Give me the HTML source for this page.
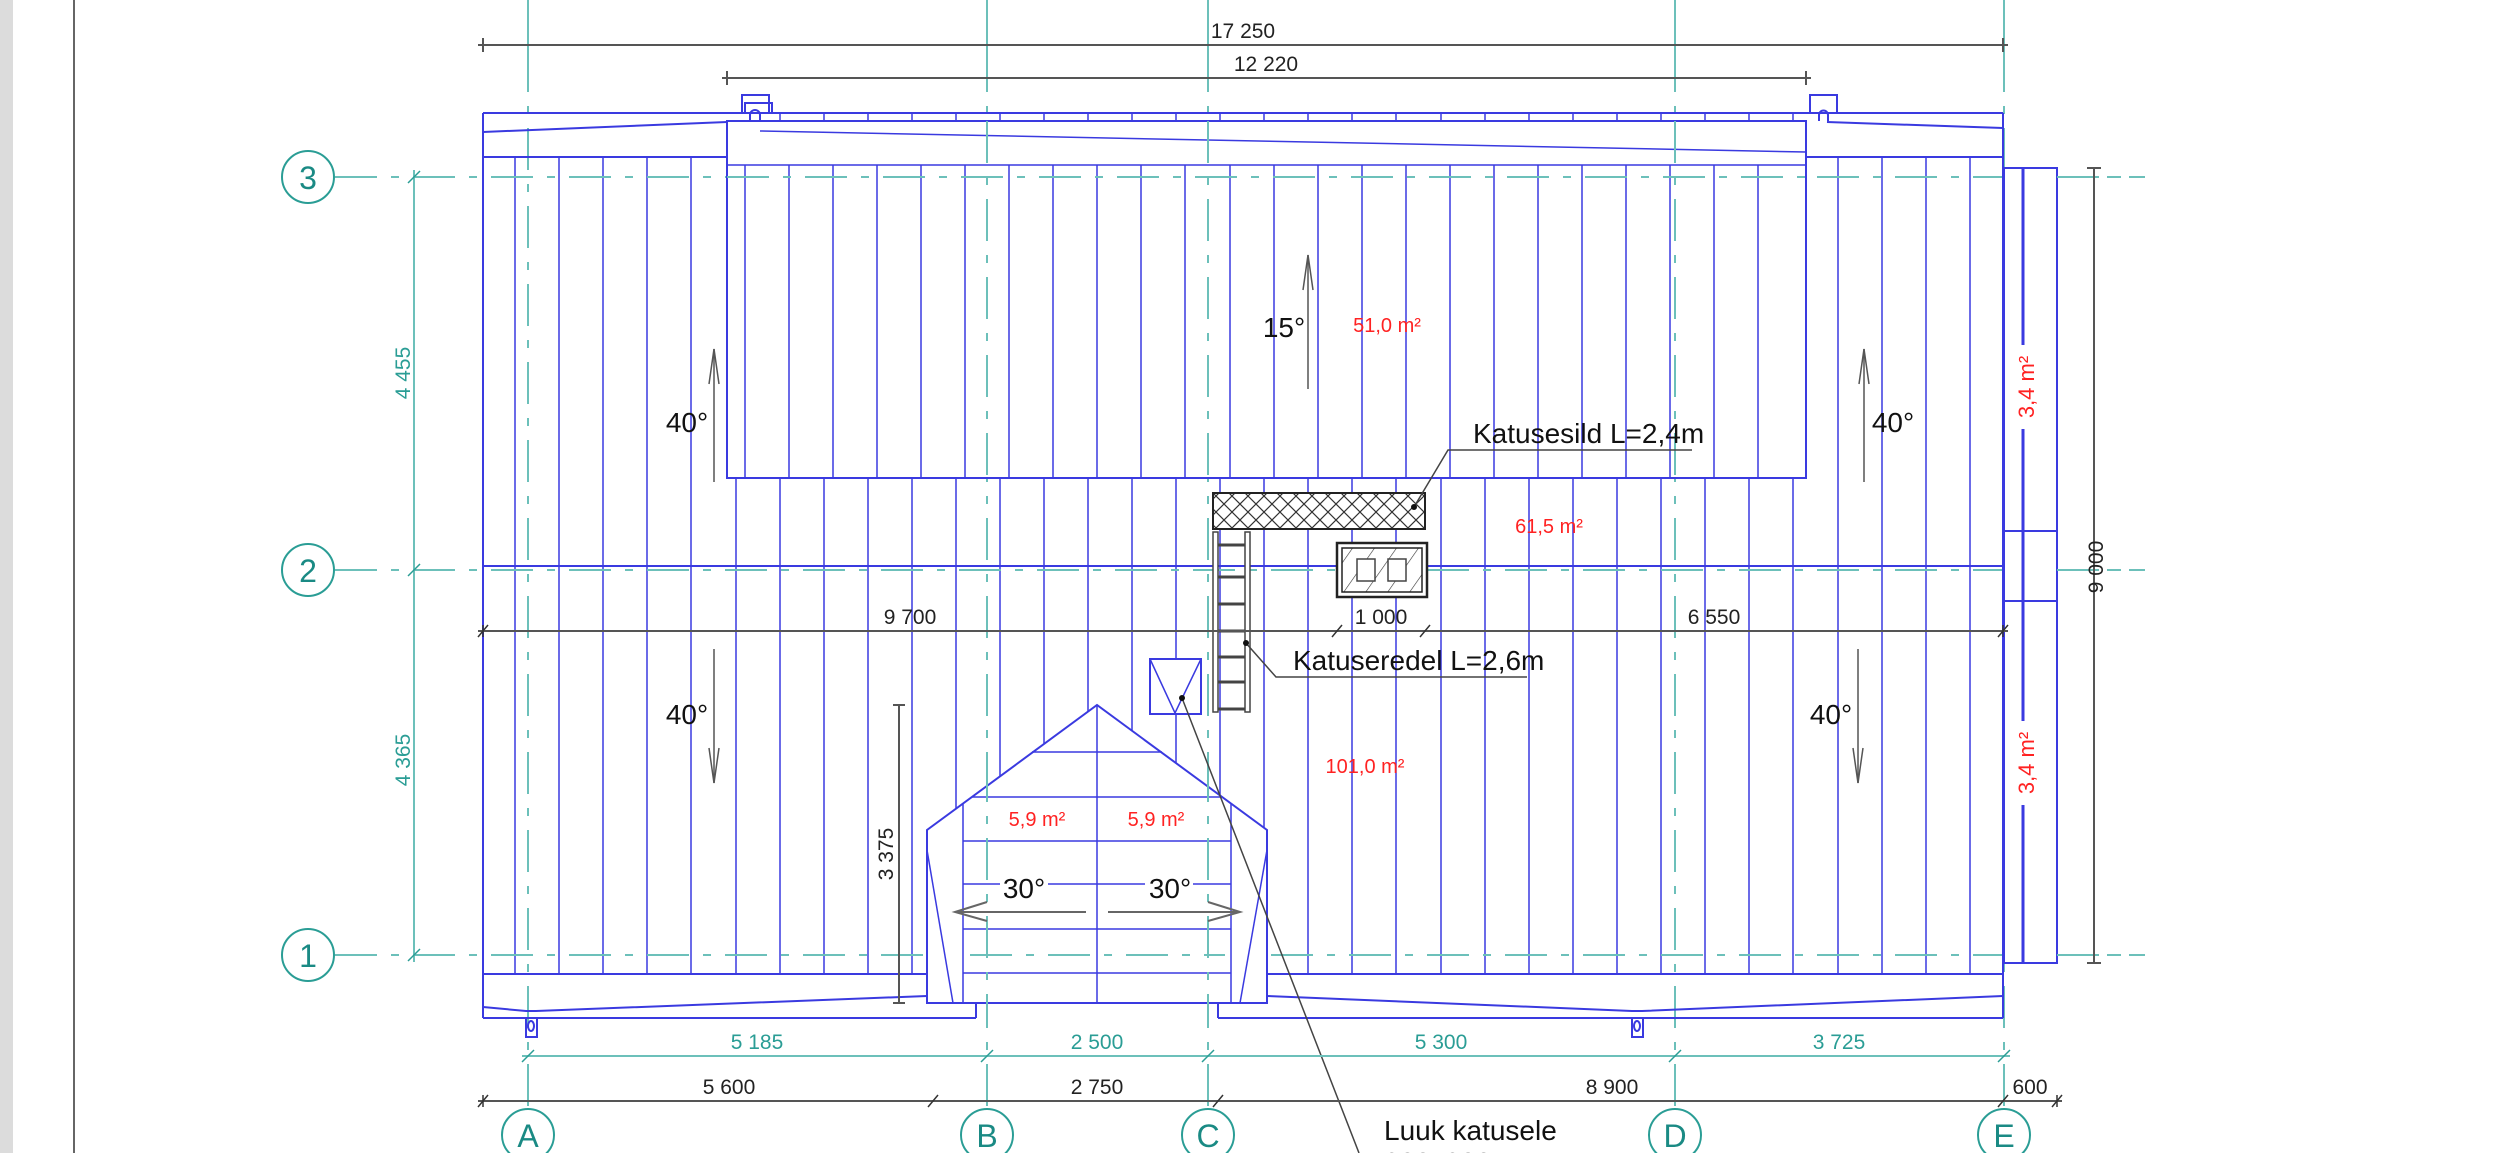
<!DOCTYPE html>
<html><head><meta charset="utf-8"><style>
html,body{margin:0;padding:0;background:#fff;}
svg{display:block;}
text{font-family:"Liberation Sans",sans-serif;}
</style></head><body>
<svg width="2500" height="1153" viewBox="0 0 2500 1153" xmlns="http://www.w3.org/2000/svg">
<rect x="0" y="0" width="2500" height="1153" fill="#fff"/>
<rect x="0" y="0" width="13" height="1153" fill="#dcdcdc"/>
<line x1="74" y1="0" x2="74" y2="1153" stroke="#666" stroke-width="2"/>

<!-- rafters left/right full height -->
<g stroke="#3a3ae0" stroke-width="1.5" fill="none">
<line x1="515" y1="157" x2="515" y2="974"/><line x1="559" y1="157" x2="559" y2="974"/><line x1="603" y1="157" x2="603" y2="974"/><line x1="647" y1="157" x2="647" y2="974"/><line x1="691" y1="157" x2="691" y2="974"/>
<line x1="1838" y1="157" x2="1838" y2="974"/><line x1="1882" y1="157" x2="1882" y2="974"/><line x1="1926" y1="157" x2="1926" y2="974"/><line x1="1970" y1="157" x2="1970" y2="974"/>
</g>
<!-- lower rafters -->
<g stroke="#3a3ae0" stroke-width="1.5" id="lr">
<line x1="736" y1="478" x2="736" y2="974"/><line x1="780" y1="478" x2="780" y2="974"/><line x1="824" y1="478" x2="824" y2="974"/><line x1="868" y1="478" x2="868" y2="974"/><line x1="912" y1="478" x2="912" y2="974"/><line x1="956" y1="478" x2="956" y2="974"/><line x1="1000" y1="478" x2="1000" y2="974"/><line x1="1044" y1="478" x2="1044" y2="974"/><line x1="1088" y1="478" x2="1088" y2="974"/><line x1="1132" y1="478" x2="1132" y2="974"/><line x1="1176" y1="478" x2="1176" y2="974"/><line x1="1220" y1="478" x2="1220" y2="974"/><line x1="1264" y1="478" x2="1264" y2="974"/><line x1="1308" y1="478" x2="1308" y2="974"/><line x1="1352" y1="478" x2="1352" y2="974"/><line x1="1396" y1="478" x2="1396" y2="974"/><line x1="1441" y1="478" x2="1441" y2="974"/><line x1="1485" y1="478" x2="1485" y2="974"/><line x1="1529" y1="478" x2="1529" y2="974"/><line x1="1573" y1="478" x2="1573" y2="974"/><line x1="1617" y1="478" x2="1617" y2="974"/><line x1="1661" y1="478" x2="1661" y2="974"/><line x1="1705" y1="478" x2="1705" y2="974"/><line x1="1749" y1="478" x2="1749" y2="974"/><line x1="1793" y1="478" x2="1793" y2="974"/>
</g>

<!-- grid lines -->
<g stroke="#6cc0ba" stroke-width="2" fill="none">
<g stroke-dasharray="42 14 8 14">
<line x1="528" y1="50" x2="528" y2="1108"/><line x1="987" y1="50" x2="987" y2="1108"/><line x1="1208" y1="50" x2="1208" y2="1108"/><line x1="1675" y1="50" x2="1675" y2="1108"/><line x1="2004" y1="50" x2="2004" y2="1108"/>
<line x1="335" y1="177" x2="2145" y2="177"/><line x1="335" y1="570" x2="2145" y2="570"/><line x1="335" y1="955" x2="2145" y2="955"/>
</g>
<line x1="528" y1="0" x2="528" y2="50"/><line x1="987" y1="0" x2="987" y2="50"/><line x1="1208" y1="0" x2="1208" y2="50"/><line x1="1675" y1="0" x2="1675" y2="50"/><line x1="2004" y1="0" x2="2004" y2="50"/>
</g>

<!-- roof outline -->
<g stroke="#3a3ae0" stroke-width="2" fill="none">
<line x1="483" y1="113" x2="2003" y2="113"/>
<line x1="483" y1="113" x2="483" y2="1018"/>
<line x1="2003" y1="113" x2="2003" y2="974"/>
<line x1="483" y1="132" x2="727" y2="122"/>
<line x1="1827" y1="122" x2="2003" y2="128"/>
<line x1="483" y1="157" x2="727" y2="157"/>
<line x1="1806" y1="157" x2="2003" y2="157"/>
<line x1="483" y1="566" x2="2003" y2="566"/>
<line x1="483" y1="974" x2="927" y2="974"/>
<line x1="1267" y1="974" x2="2003" y2="974"/>
<line x1="483" y1="1018" x2="976" y2="1018"/><line x1="976" y1="1003" x2="976" y2="1018"/>
<line x1="1218" y1="1018" x2="2003" y2="1018"/><line x1="1218" y1="1003" x2="1218" y2="1018"/><line x1="2003" y1="974" x2="2003" y2="1018"/>
<polyline points="483,1007 526,1011 536,1011 927,996"/>
<polyline points="1267,996 1632,1011 1642,1011 2003,996"/>
<rect x="526" y="1018" width="11" height="19"/><ellipse cx="531" cy="1026" rx="3" ry="5"/>
<rect x="1632" y="1018" width="11" height="19"/><ellipse cx="1637" cy="1026" rx="3" ry="5"/>
<rect x="742" y="95" width="27" height="18" fill="#fff"/><rect x="745" y="103" width="27" height="10"/>
<rect x="1810" y="95" width="27" height="18" fill="#fff"/>
<path d="M750,121 v-6 a4,4 0 0 1 10,0 v6" /><path d="M1819,121 v-6 a4,4 0 0 1 9,0 v6"/>
</g>

<!-- upper dormer -->
<rect x="727" y="121" width="1079" height="357" fill="#fff" stroke="#3a3ae0" stroke-width="2"/>
<g stroke="#3a3ae0" stroke-width="1.5">
<line x1="727" y1="165" x2="1806" y2="165"/>
<line x1="760" y1="131" x2="1806" y2="152"/>
<line x1="780" y1="113" x2="780" y2="121"/><line x1="824" y1="113" x2="824" y2="121"/><line x1="868" y1="113" x2="868" y2="121"/><line x1="912" y1="113" x2="912" y2="121"/><line x1="956" y1="113" x2="956" y2="121"/><line x1="1000" y1="113" x2="1000" y2="121"/><line x1="1044" y1="113" x2="1044" y2="121"/><line x1="1088" y1="113" x2="1088" y2="121"/><line x1="1132" y1="113" x2="1132" y2="121"/><line x1="1176" y1="113" x2="1176" y2="121"/><line x1="1220" y1="113" x2="1220" y2="121"/><line x1="1264" y1="113" x2="1264" y2="121"/><line x1="1308" y1="113" x2="1308" y2="121"/><line x1="1352" y1="113" x2="1352" y2="121"/><line x1="1396" y1="113" x2="1396" y2="121"/><line x1="1441" y1="113" x2="1441" y2="121"/><line x1="1485" y1="113" x2="1485" y2="121"/><line x1="1529" y1="113" x2="1529" y2="121"/><line x1="1573" y1="113" x2="1573" y2="121"/><line x1="1617" y1="113" x2="1617" y2="121"/><line x1="1661" y1="113" x2="1661" y2="121"/><line x1="1705" y1="113" x2="1705" y2="121"/><line x1="1749" y1="113" x2="1749" y2="121"/><line x1="1793" y1="113" x2="1793" y2="121"/>
<line x1="745" y1="165" x2="745" y2="478"/><line x1="789" y1="165" x2="789" y2="478"/><line x1="833" y1="165" x2="833" y2="478"/><line x1="877" y1="165" x2="877" y2="478"/><line x1="921" y1="165" x2="921" y2="478"/><line x1="965" y1="165" x2="965" y2="478"/><line x1="1009" y1="165" x2="1009" y2="478"/><line x1="1053" y1="165" x2="1053" y2="478"/><line x1="1097" y1="165" x2="1097" y2="478"/><line x1="1141" y1="165" x2="1141" y2="478"/><line x1="1185" y1="165" x2="1185" y2="478"/><line x1="1230" y1="165" x2="1230" y2="478"/><line x1="1274" y1="165" x2="1274" y2="478"/><line x1="1318" y1="165" x2="1318" y2="478"/><line x1="1362" y1="165" x2="1362" y2="478"/><line x1="1406" y1="165" x2="1406" y2="478"/><line x1="1450" y1="165" x2="1450" y2="478"/><line x1="1494" y1="165" x2="1494" y2="478"/><line x1="1538" y1="165" x2="1538" y2="478"/><line x1="1582" y1="165" x2="1582" y2="478"/><line x1="1626" y1="165" x2="1626" y2="478"/><line x1="1670" y1="165" x2="1670" y2="478"/><line x1="1714" y1="165" x2="1714" y2="478"/><line x1="1758" y1="165" x2="1758" y2="478"/>
</g>
<g stroke="#6cc0ba" stroke-width="2" stroke-dasharray="42 14 8 14"><line x1="987" y1="121" x2="987" y2="478"/><line x1="1208" y1="121" x2="1208" y2="478"/><line x1="1675" y1="121" x2="1675" y2="478"/><line x1="727" y1="177" x2="1806" y2="177"/></g>

<!-- right strip -->
<g stroke="#3a3ae0" stroke-width="2" fill="#fff">
<rect x="2004" y="168" width="53" height="795"/>
<line x1="2004" y1="531" x2="2057" y2="531"/><line x1="2004" y1="601" x2="2057" y2="601"/>
<line x1="2023" y1="168" x2="2023" y2="963" stroke-width="3"/>
</g>
<g stroke="#6cc0ba" stroke-width="2" stroke-dasharray="42 14 8 14"><line x1="2057" y1="177" x2="2145" y2="177"/><line x1="2057" y1="570" x2="2145" y2="570"/><line x1="2057" y1="955" x2="2145" y2="955"/></g>
<rect x="2012" y="345" width="28" height="84" fill="#fff"/><text transform="translate(2034,387) rotate(-90)" text-anchor="middle" font-size="22" fill="#f22">3,4 m²</text>
<rect x="2012" y="721" width="28" height="84" fill="#fff"/><text transform="translate(2034,763) rotate(-90)" text-anchor="middle" font-size="22" fill="#f22">3,4 m²</text>

<!-- gable dormer -->
<polygon points="927,1003 927,830 1097,705 1267,830 1267,1003" fill="#fff" stroke="#3a3ae0" stroke-width="2"/>
<g stroke="#3a3ae0" stroke-width="1.5" fill="none">
<line x1="963" y1="803" x2="963" y2="1003"/><line x1="1231" y1="803" x2="1231" y2="1003"/>
<line x1="1097" y1="705" x2="1097" y2="1003"/>
<line x1="1032" y1="752" x2="1162" y2="752"/>
<line x1="972" y1="797" x2="1221" y2="797"/>
<line x1="963" y1="841" x2="1231" y2="841"/>
<line x1="963" y1="884" x2="1000" y2="884"/><line x1="1048" y1="884" x2="1145" y2="884"/><line x1="1193" y1="884" x2="1231" y2="884"/>
<line x1="963" y1="929" x2="1231" y2="929"/>
<line x1="963" y1="973" x2="1231" y2="973"/>
<line x1="927" y1="850" x2="953" y2="1003"/><line x1="1267" y1="850" x2="1240" y2="1003"/>
</g>
<g stroke="#6cc0ba" stroke-width="2" stroke-dasharray="42 14 8 14"><line x1="987" y1="760" x2="987" y2="1018"/><line x1="1208" y1="760" x2="1208" y2="1018"/><line x1="970" y1="955" x2="1225" y2="955"/></g>
<text x="1037" y="826" text-anchor="middle" font-size="20" fill="#f22">5,9 m²</text>
<text x="1156" y="826" text-anchor="middle" font-size="20" fill="#f22">5,9 m²</text>
<text x="1024" y="898" text-anchor="middle" font-size="28" fill="#111">30°</text>
<text x="1170" y="898" text-anchor="middle" font-size="28" fill="#111">30°</text>
<g stroke="#666" stroke-width="2" fill="none">
<line x1="955" y1="912" x2="1086" y2="912"/><polyline points="987,902 955,912 987,921"/>
<line x1="1108" y1="912" x2="1240" y2="912"/><polyline points="1208,902 1240,912 1208,921"/>
</g>

<!-- hatch, ladder, skylight -->
<defs><pattern id="xh" width="16" height="16" patternUnits="userSpaceOnUse"><path d="M0,0 L16,16 M16,0 L0,16" stroke="#333" stroke-width="1.2"/></pattern>
<pattern id="dh" width="18" height="18" patternUnits="userSpaceOnUse" patternTransform="rotate(35)"><line x1="0" y1="0" x2="0" y2="18" stroke="#333" stroke-width="1.2"/></pattern></defs>
<rect x="1213" y="493" width="212" height="36" fill="#fff"/><rect x="1213" y="493" width="212" height="36" fill="url(#xh)" stroke="#222" stroke-width="2"/>
<g stroke="#444" stroke-width="1.5" fill="#fff">
<rect x="1213" y="532" width="5" height="180"/><rect x="1245" y="532" width="5" height="180"/>
</g>
<g stroke="#444" stroke-width="3"><line x1="1218" y1="545" x2="1245" y2="545"/><line x1="1218" y1="577" x2="1245" y2="577"/><line x1="1218" y1="604" x2="1245" y2="604"/><line x1="1218" y1="631" x2="1245" y2="631"/><line x1="1218" y1="657" x2="1245" y2="657"/><line x1="1218" y1="682" x2="1245" y2="682"/><line x1="1218" y1="709" x2="1245" y2="709"/></g>
<rect x="1337" y="543" width="90" height="54" fill="#fff" stroke="#222" stroke-width="2.5"/>
<rect x="1342" y="548" width="80" height="44" fill="url(#dh)" stroke="#222" stroke-width="1.5"/>
<rect x="1357" y="559" width="18" height="22" fill="#fff" stroke="#444" stroke-width="1.5"/><rect x="1388" y="559" width="18" height="22" fill="#fff" stroke="#444" stroke-width="1.5"/>
<rect x="1150" y="659" width="51" height="55" fill="#fff" stroke="#3a3ae0" stroke-width="2"/>
<polyline points="1150,659 1175,713 1201,659" fill="none" stroke="#3a3ae0" stroke-width="1.5"/>

<!-- leaders -->
<g stroke="#444" stroke-width="1.5" fill="none">
<line x1="1182" y1="698" x2="1359" y2="1153"/>
<polyline points="1414,507 1448,450 1692,450"/>
<polyline points="1245,642 1276,677 1527,677"/>
</g>
<circle cx="1182" cy="698" r="3" fill="#111"/><circle cx="1414" cy="507" r="3" fill="#111"/><circle cx="1246" cy="643" r="3" fill="#111"/>
<text x="1473" y="443" font-size="28" fill="#111">Katusesild L=2,4m</text>
<text x="1293" y="670" font-size="28" fill="#111">Katuseredel L=2,6m</text>
<text x="1384" y="1140" font-size="28" fill="#111">Luuk katusele</text>
<text x="1384" y="1172" font-size="28" fill="#111">800x800</text>

<!-- slope arrows & labels -->
<g stroke="#555" stroke-width="1.5" fill="none">
<line x1="1308" y1="389" x2="1308" y2="255"/><polyline points="1303,290 1308,255 1313,290"/>
<line x1="714" y1="482" x2="714" y2="349"/><polyline points="709,384 714,349 719,384"/>
<line x1="1864" y1="482" x2="1864" y2="349"/><polyline points="1859,384 1864,349 1869,384"/>
<line x1="714" y1="649" x2="714" y2="783"/><polyline points="709,748 714,783 719,748"/>
<line x1="1858" y1="649" x2="1858" y2="783"/><polyline points="1853,748 1858,783 1863,748"/>
</g>
<text x="1284" y="337" text-anchor="middle" font-size="28" fill="#111">15°</text>
<text x="1387" y="332" text-anchor="middle" font-size="20" fill="#f22">51,0 m²</text>
<text x="687" y="432" text-anchor="middle" font-size="28" fill="#111">40°</text>
<text x="1893" y="432" text-anchor="middle" font-size="28" fill="#111">40°</text>
<text x="1549" y="533" text-anchor="middle" font-size="20" fill="#f22">61,5 m²</text>
<text x="687" y="724" text-anchor="middle" font-size="28" fill="#111">40°</text>
<text x="1831" y="724" text-anchor="middle" font-size="28" fill="#111">40°</text>
<text x="1365" y="773" text-anchor="middle" font-size="20" fill="#f22">101,0 m²</text>

<!-- black dimensions -->
<g stroke="#555" stroke-width="2" fill="none">
<line x1="478" y1="45" x2="2008" y2="45"/><line x1="483" y1="38" x2="483" y2="52"/><line x1="2003" y1="38" x2="2003" y2="52"/>
<line x1="722" y1="78" x2="1811" y2="78"/><line x1="727" y1="71" x2="727" y2="85"/><line x1="1806" y1="71" x2="1806" y2="85"/>
<line x1="478" y1="631" x2="2008" y2="631"/>
<line x1="478" y1="1101" x2="2062" y2="1101"/>
<line x1="2094" y1="168" x2="2094" y2="963"/><line x1="2087" y1="168" x2="2101" y2="168"/><line x1="2087" y1="963" x2="2101" y2="963"/>
<line x1="899" y1="705" x2="899" y2="1003"/><line x1="893" y1="705" x2="905" y2="705"/><line x1="893" y1="1003" x2="905" y2="1003"/>
</g>
<g stroke="#333" stroke-width="1.5">
<line x1="478" y1="637" x2="488" y2="625"/><line x1="1332" y1="637" x2="1342" y2="625"/><line x1="1420" y1="637" x2="1430" y2="625"/><line x1="1998" y1="637" x2="2008" y2="625"/>
<line x1="478" y1="1107" x2="488" y2="1095"/><line x1="928" y1="1107" x2="938" y2="1095"/><line x1="1213" y1="1107" x2="1223" y2="1095"/><line x1="1998" y1="1107" x2="2008" y2="1095"/><line x1="2052" y1="1107" x2="2062" y2="1095"/>
<line x1="483" y1="625" x2="483" y2="637"/><line x1="2003" y1="625" x2="2003" y2="637"/><line x1="483" y1="1095" x2="483" y2="1107"/><line x1="2057" y1="1095" x2="2057" y2="1107"/>
</g>
<g font-size="21" fill="#222" text-anchor="middle">
<text x="1243" y="38">17 250</text>
<text x="1266" y="71">12 220</text>
<text x="910" y="624">9 700</text>
<text x="1381" y="624">1 000</text>
<text x="1714" y="624">6 550</text>
<text x="729" y="1094">5 600</text>
<text x="1097" y="1094">2 750</text>
<text x="1612" y="1094">8 900</text>
<text x="2030" y="1094">600</text>
<text transform="translate(2103,567) rotate(-90)">9 000</text>
<text transform="translate(893,854) rotate(-90)">3 375</text>
</g>

<!-- teal dimensions -->
<g stroke="#6cc0ba" stroke-width="2" fill="none">
<line x1="414" y1="170" x2="414" y2="962"/>
<line x1="522" y1="1056" x2="2010" y2="1056"/>
</g>
<g stroke="#2a9d95" stroke-width="1.5">
<line x1="408" y1="183" x2="420" y2="171"/><line x1="408" y1="576" x2="420" y2="564"/><line x1="408" y1="961" x2="420" y2="949"/>
<line x1="522" y1="1062" x2="534" y2="1050"/><line x1="981" y1="1062" x2="993" y2="1050"/><line x1="1202" y1="1062" x2="1214" y2="1050"/><line x1="1669" y1="1062" x2="1681" y2="1050"/><line x1="1998" y1="1062" x2="2010" y2="1050"/>
</g>
<g font-size="21" fill="#2a9d95" text-anchor="middle">
<text transform="translate(410,373) rotate(-90)">4 455</text>
<text transform="translate(410,760) rotate(-90)">4 365</text>
<text x="757" y="1049">5 185</text>
<text x="1097" y="1049">2 500</text>
<text x="1441" y="1049">5 300</text>
<text x="1839" y="1049">3 725</text>
</g>

<!-- bubbles -->
<g stroke="#2a9d95" stroke-width="2" fill="#fff">
<circle cx="308" cy="177" r="26"/><circle cx="308" cy="570" r="26"/><circle cx="308" cy="955" r="26"/>
<circle cx="528" cy="1135" r="26"/><circle cx="987" cy="1135" r="26"/><circle cx="1208" cy="1135" r="26"/><circle cx="1675" cy="1135" r="26"/><circle cx="2004" cy="1135" r="26"/>
</g>
<g font-size="32" fill="#1a8a84" text-anchor="middle">
<text x="308" y="189">3</text><text x="308" y="582">2</text><text x="308" y="967">1</text>
<text x="528" y="1147">A</text><text x="987" y="1147">B</text><text x="1208" y="1147">C</text><text x="1675" y="1147">D</text><text x="2004" y="1147">E</text>
</g>
</svg>
</body></html>
